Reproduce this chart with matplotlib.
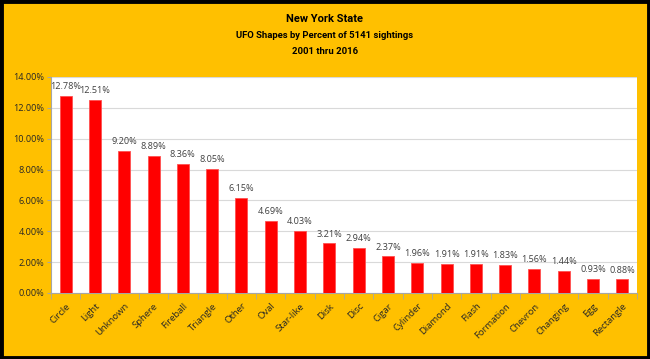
import matplotlib.pyplot as plt
import numpy as np

shapes = ['Circle', 'Light', 'Unknown', 'Sphere', 'Fireball', 'Triangle', 'Other', 'Oval',
          'Star-like', 'Disk', 'Disc', 'Cigar', 'Cylinder', 'Diamond', 'Flash', 'Formation',
          'Chevron', 'Changing', 'Egg', 'Rectangle']
percents = [12.78, 12.51, 9.20, 8.89, 8.36, 8.05, 6.15, 4.69, 4.03, 3.21, 2.94, 2.37,
            1.96, 1.91, 1.91, 1.83, 1.56, 1.44, 0.93, 0.88]
yticks = [0, 2, 4, 6, 8, 10, 12, 14]

plt.rcParams['font.family'] = ['Open Sans', 'DejaVu Sans']
title_font = ['Liberation Sans Narrow', 'Roboto', 'DejaVu Sans']

fig = plt.figure(figsize=(6.5, 3.59), dpi=100, facecolor='#FFC000')
ax = fig.add_axes([51 / 650, 1 - 293 / 359, 586 / 650, 216 / 359])
ax.set_facecolor('white')

x = np.arange(len(shapes))
ax.bar(x, percents, width=0.41, color='#FF0000', edgecolor='#FF5050', linewidth=0.6, zorder=3)

for xi, v in zip(x, percents):
    ax.text(xi, v + 0.3, f'{v:.2f}%', ha='center', va='bottom', fontsize=6.6, color='#404040', zorder=4)

ax.set_xlim(-0.5, len(shapes) - 0.5)
ax.set_ylim(0, 14)
ax.set_yticks(yticks)
ax.set_yticklabels([f'{t:.2f}%' for t in yticks], fontsize=6.6, color='#262626')
ax.yaxis.grid(True, color='#D9D9D9', linewidth=0.8, zorder=0)
ax.tick_params(axis='y', length=3, color='#A6A6A6', pad=2)

ax.set_xticks(x)
ax.set_xticklabels(shapes, rotation=45, ha='right', rotation_mode='anchor', fontsize=6.8, color='#262626')
ax.set_xticks(np.arange(-0.5, len(shapes)), minor=True)
ax.tick_params(axis='x', which='major', length=0, pad=6)
ax.tick_params(axis='x', which='minor', length=4, color='#A6A6A6')

for s in ['top', 'right']:
    ax.spines[s].set_visible(False)
ax.spines['left'].set_color('#A6A6A6')
ax.spines['bottom'].set_color('#A6A6A6')

fig.text(0.5, 1 - 19 / 359, 'New York State', ha='center', va='center', fontsize=8,
         fontweight='bold', color='black', family=title_font)
fig.text(0.5, 1 - 36 / 359, 'UFO Shapes by Percent of 5141 sightings', ha='center', va='center',
         fontsize=6.8, fontweight='bold', color='black', family=title_font)
fig.text(0.5, 1 - 52 / 359, '2001 thru 2016', ha='center', va='center', fontsize=6.8,
         fontweight='bold', color='black', family=title_font)

# black frame around the whole chart
fig.patches.append(plt.Rectangle((0.002, 0.003), 0.996, 0.994, transform=fig.transFigure,
                                 fill=False, edgecolor='black', linewidth=3.5))

fig.savefig('out.png', dpi=100, facecolor=fig.get_facecolor())
